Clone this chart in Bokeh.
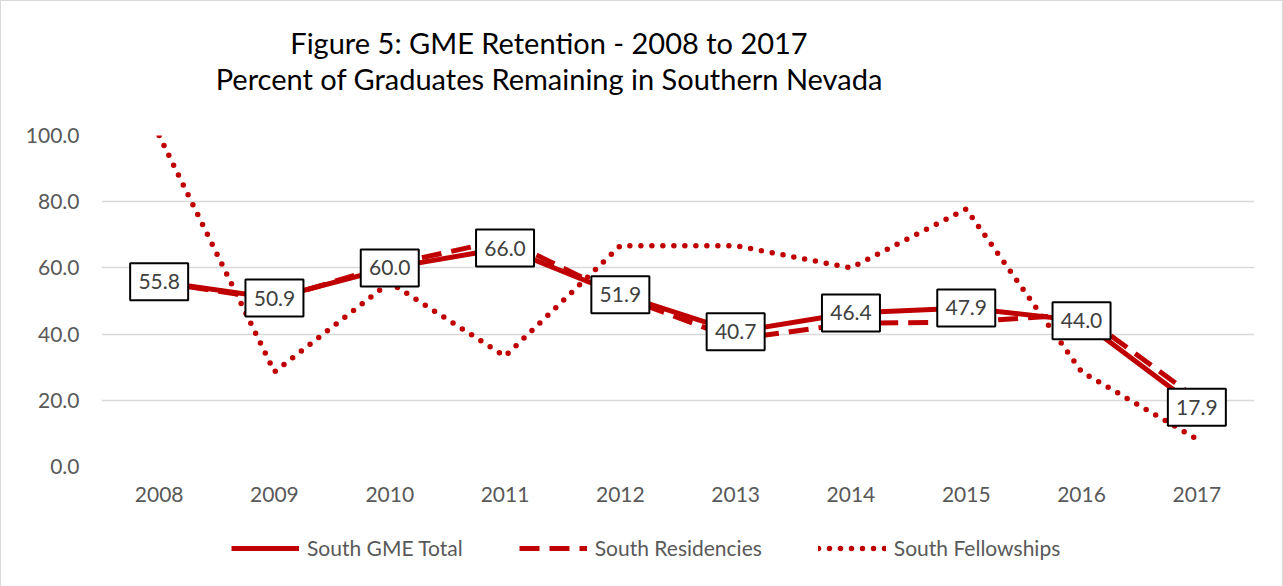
from bokeh.plotting import figure
from bokeh.layouts import column
from bokeh.models import (ColumnDataSource, FactorRange, Range1d, Div,
                          Legend, LegendItem, FixedTicker, PrintfTickFormatter)
from bokeh.core.properties import value
from bokeh.embed import file_html
from bokeh.resources import INLINE

years = ["2008", "2009", "2010", "2011", "2012", "2013", "2014", "2015", "2016", "2017"]
south_total = [55.8, 50.9, 60.0, 66.0, 51.9, 40.7, 46.4, 47.9, 44.0, 17.9]
south_residencies = [55.6, 50.4, 61.0, 68.5, 51.5, 38.5, 43.2, 43.7, 46.0, 20.5]
south_fellowships = [100.0, 28.6, 55.6, 33.3, 66.7, 66.7, 60.0, 77.8, 28.6, 8.3]
y_ticks = [0, 20, 40, 60, 80, 100]
title_lines = ["Figure 5: GME Retention - 2008 to 2017",
               "Percent of Graduates Remaining in Southern Nevada"]
series_names = ["South GME Total", "South Residencies", "South Fellowships"]

FONT = "Lato"
RED = "#C00000"
GRAY = "#595959"
W = 1281

src = ColumnDataSource(dict(
    year=years,
    total=south_total,
    res=south_residencies,
    fel=south_fellowships,
    lbl=["%.1f" % v for v in south_total],
))

TITLE_H = 110
title = Div(text="<br>".join(title_lines), width=1096, height=TITLE_H, margin=0,
            styles={"text-align": "center", "font-family": FONT, "font-size": "29px",
                    "line-height": "36px", "color": "black", "padding-top": "24px",
                    "box-sizing": "border-box", "white-space": "nowrap"})

MAIN_H = 400
p = figure(width=W, height=MAIN_H, x_range=FactorRange(*years), y_range=Range1d(0, 100),
           output_backend="svg", toolbar_location=None,
           min_border_left=100, min_border_right=W - 1253, min_border_top=134 - TITLE_H,
           min_border_bottom=MAIN_H - (465 - TITLE_H))
p.outline_line_color = None
p.background_fill_color = "white"
p.border_fill_color = "white"

line_styles = [dict(line_width=5),
               dict(line_width=5, line_dash="20 10"),
               dict(line_width=5.5, line_dash="0 11", line_cap="round")]
columns = ["total", "res", "fel"]

for col, st in reversed(list(zip(columns, line_styles))):
    p.line("year", col, source=src, line_color=RED, **st)

# data labels: white boxes with black border
p.rect(x="year", y="total", width=58, height=37, width_units="screen", height_units="screen",
       source=src, fill_color="white", line_color="black", line_width=2)
p.text(x="year", y="total", text="lbl", source=src, text_align="center",
       text_baseline="middle", text_font=value(FONT), text_font_size="21px",
       text_color="#404040")

# axes
p.yaxis.ticker = FixedTicker(ticks=y_ticks)
p.yaxis.formatter = PrintfTickFormatter(format="%.1f")
for ax in (p.xaxis[0], p.yaxis[0]):
    ax.axis_line_color = None
    ax.major_tick_line_color = None
    ax.minor_tick_line_color = None
    ax.major_tick_out = 0
    ax.major_tick_in = 0
    ax.major_label_text_font = FONT
    ax.major_label_text_font_size = "21px"
    ax.major_label_text_color = GRAY
p.yaxis.major_label_standoff = 22
p.xaxis.major_label_standoff = 20
p.xgrid.grid_line_color = None
p.ygrid.grid_line_color = "#d9d9d9"
p.ygrid.grid_line_width = 1.3

# legend strip below the chart (its series lines lie outside its visible y range)
LEG_H = 586 - TITLE_H - MAIN_H
lf = figure(width=W, height=LEG_H, x_range=FactorRange(*years), y_range=Range1d(-300, -200),
            output_backend="svg", toolbar_location=None, x_axis_type=None, y_axis_type=None,
            min_border_left=100, min_border_right=W - 1253, min_border_top=0, min_border_bottom=0)
lf.outline_line_color = None
lf.xgrid.grid_line_color = None
lf.ygrid.grid_line_color = None
leg_renderers = [lf.line("year", col, source=src, line_color=RED, **st)
                 for col, st in zip(columns, line_styles)]

legend = Legend(items=[LegendItem(label=n, renderers=[r]) for n, r in zip(series_names, leg_renderers)],
                orientation="horizontal", location=(130, LEG_H - (548 - TITLE_H - MAIN_H) - 11),
                glyph_width=68, glyph_height=20, label_standoff=8, spacing=56,
                padding=0, margin=0, border_line_color=None, background_fill_alpha=0,
                label_text_font=FONT, label_text_font_size="21px", label_text_color=GRAY)
lf.add_layout(legend)

layout = column(title, p, lf, spacing=0,
                styles={"border": "1px solid #d9d9d9", "box-sizing": "border-box",
                        "background": "white"})

open("out.html", "w").write(file_html(layout, INLINE))
